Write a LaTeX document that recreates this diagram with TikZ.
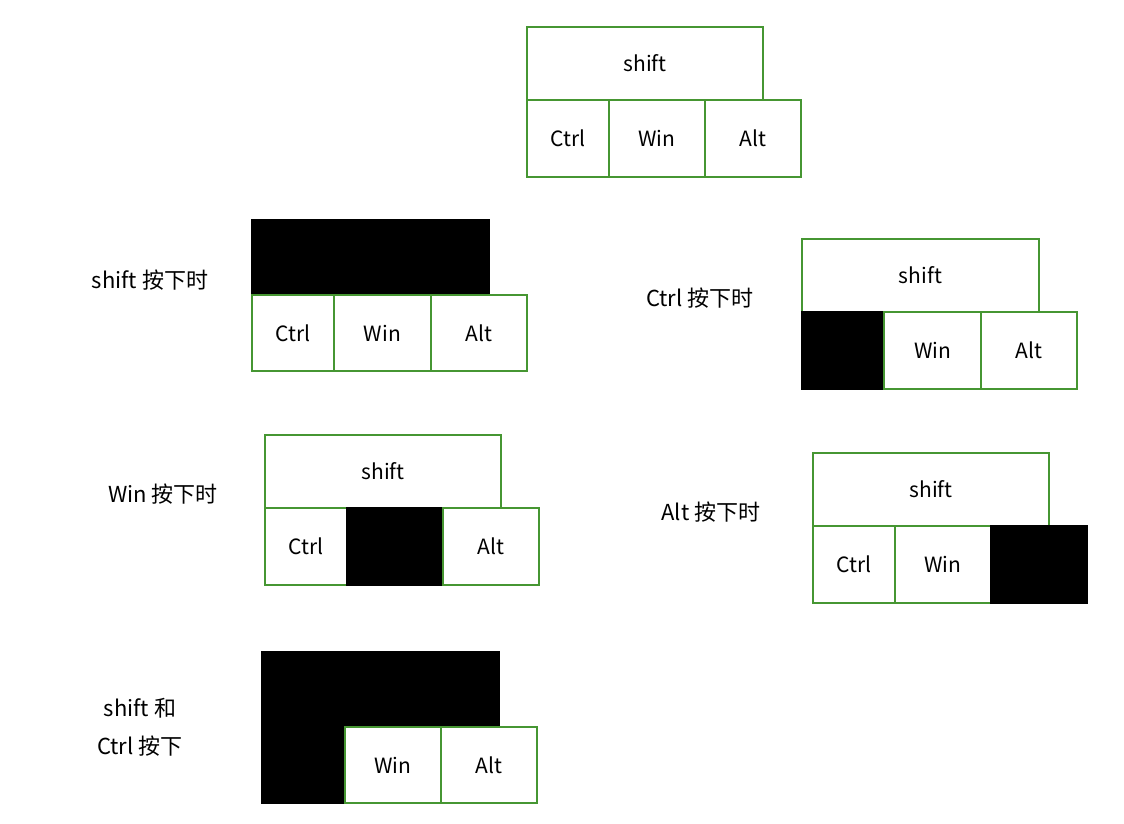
\documentclass[tikz,border=0pt]{standalone}
\usepackage{fontspec}
\setmainfont{Noto Sans CJK SC}
\definecolor{kg}{RGB}{70,150,50}
\begin{document}
\begin{tikzpicture}[x=1pt,y=-1pt,
  key/.style={draw=kg,line width=1.2pt,fill=white,font=\fontsize{21}{24}\selectfont},
  dn/.style={draw=black,fill=black},
  lab/.style={font=\fontsize{22}{26}\selectfont,align=left}]
\useasboundingbox (0,0) rectangle (1124,824);
% top
\draw[key] (527,27) rectangle (763,100) node[midway] (s1) {shift};
\draw[key] (527,100) rectangle (609,177) node[midway] (c1) {Ctrl};
\draw[key] (609,100) rectangle (705,177) node[midway] (w1) {Win};
\draw[key] (705,100) rectangle (801,177) node[midway] (a1) {Alt};
% shift down
\draw[key,dn] (252,220) rectangle (489,295) node[midway] (s2) {};
\draw[key] (252,295) rectangle (334,371) node[midway] (c2) {Ctrl};
\draw[key] (334,295) rectangle (431,371) node[midway] (w2) {Win};
\draw[key] (431,295) rectangle (527,371) node[midway] (a2) {Alt};
\node[lab] (l2) at (150,280) {shift 按下时};
% ctrl down
\draw[key] (802,239) rectangle (1039,312) node[midway] (s3) {shift};
\draw[key,dn] (802,312) rectangle (884,389) node[midway] (c3) {};
\draw[key] (884,312) rectangle (981,389) node[midway] (w3) {Win};
\draw[key] (981,312) rectangle (1077,389) node[midway] (a3) {Alt};
\node[lab] (l3) at (700,298) {Ctrl 按下时};
% win down
\draw[key] (265,435) rectangle (501,508) node[midway] (s4) {shift};
\draw[key] (265,508) rectangle (347,585) node[midway] (c4) {Ctrl};
\draw[key,dn] (347,508) rectangle (443,585) node[midway] (w4) {};
\draw[key] (443,508) rectangle (539,585) node[midway] (a4) {Alt};
\node[lab] (l4) at (163,494) {Win 按下时};
% alt down
\draw[key] (813,453) rectangle (1049,526) node[midway] (s5) {shift};
\draw[key] (813,526) rectangle (895,603) node[midway] (c5) {Ctrl};
\draw[key] (895,526) rectangle (991,603) node[midway] (w5) {Win};
\draw[key,dn] (991,526) rectangle (1087,603) node[midway] (a5) {};
\node[lab] (l5) at (711,512) {Alt 按下时};
% shift+ctrl
\draw[key,dn] (262,652) rectangle (499,727) node[midway] (s6) {};
\draw[key,dn] (262,726) rectangle (345,803) node[midway] (c6) {};
\draw[key] (345,727) rectangle (441,803) node[midway] (w6) {Win};
\draw[key] (441,727) rectangle (537,803) node[midway] (a6) {Alt};
\node[lab] (l6a) at (140,708) {shift 和};
\node[lab] (l6b) at (140,746) {Ctrl 按下};
\end{tikzpicture}
\end{document}
